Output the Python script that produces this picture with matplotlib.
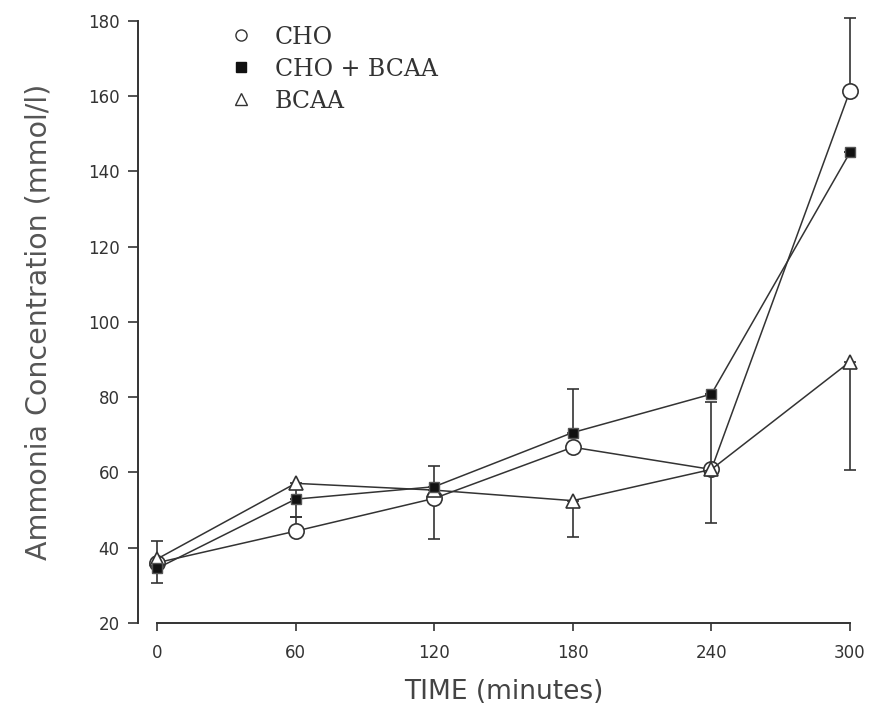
import numpy as np
import matplotlib.pyplot as plt
from matplotlib.lines import Line2D

# sampling times (minutes)
time = [0, 60, 120, 180, 240, 300]

# ammonia concentration (mmol/l) per treatment
cho = [36.0, 44.4, 53.1, 66.7, 60.8, 161.4]
cho_bcaa = [34.5, 52.9, 56.2, 70.6, 80.8, 145.0]
bcaa = [37.0, 57.1, 55.3, 52.5, 60.8, 89.4]

# one-sided error bars (upper for CHO and CHO+BCAA, lower for BCAA)
cho_up = [5.8, 3.7, 0.0, 0.0, 17.8, 19.2]
cho_bcaa_up = [0.0, 0.0, 5.6, 11.5, 0.0, 0.0]
bcaa_down = [6.5, 9.0, 13.0, 9.6, 14.2, 28.8]

xticks = [0, 60, 120, 180, 240, 300]
yticks = [20, 40, 60, 80, 100, 120, 140, 160, 180]

ink = '#333333'
zeros = np.zeros(len(time))

fig = plt.figure(figsize=(8.74, 7.17), dpi=100)
ax = fig.add_axes([0.1796, 0.1311, 0.7929, 0.840])

ekw = dict(ecolor=ink, elinewidth=1.2, capsize=4, capthick=1.2, zorder=2)

bars = []
bars.append(ax.errorbar(time, bcaa, yerr=[bcaa_down, zeros], fmt='none', **ekw))
bars.append(ax.errorbar(time, cho, yerr=[zeros, cho_up], fmt='none', **ekw))
bars.append(ax.errorbar(time, cho_bcaa, yerr=[zeros, cho_bcaa_up], fmt='none', **ekw))
for b in bars:
    for art in b.lines[1] + b.lines[2]:
        art.set_clip_on(False)

# circles underneath, then triangles, filled squares on top
ax.plot(time, cho, '-', color=ink, lw=1.1, marker='o', ms=11,
        mfc='white', mec=ink, mew=1.2, zorder=3, clip_on=False)
ax.plot(time, bcaa, '-', color=ink, lw=1.1, marker='^', ms=10,
        mfc='white', mec=ink, mew=1.2, zorder=4, clip_on=False)
ax.plot(time, cho_bcaa, '-', color=ink, lw=1.1, marker='s', ms=7,
        mfc='#111111', mec='#555555', mew=1.0, zorder=5, clip_on=False)

ax.set_xlim(0, 300)
ax.set_ylim(20, 180)
ax.set_xticks(xticks)
ax.set_yticks(yticks)

for s in ['top', 'right']:
    ax.spines[s].set_visible(False)
ax.spines['left'].set_position(('outward', 14))
for s in ['left', 'bottom']:
    ax.spines[s].set_color(ink)
    ax.spines[s].set_linewidth(1.4)

ax.tick_params(axis='x', direction='out', length=6, width=1.2, colors=ink,
               labelsize=12, pad=9)
ax.tick_params(axis='y', direction='out', length=7, width=1.2, colors=ink,
               labelsize=12, pad=6)

ax.set_ylabel('Ammonia Concentration (mmol/l)', fontsize=20.5, color='#555555',
              labelpad=25)
ax.set_xlabel('TIME (minutes)', fontsize=19, color='#444444', labelpad=12)

handles = [
    Line2D([], [], ls='none', marker='o', ms=8, mfc='white', mec=ink, mew=1.0),
    Line2D([], [], ls='none', marker='s', ms=6.5, mfc='#111111', mec='#111111'),
    Line2D([], [], ls='none', marker='^', ms=8, mfc='white', mec=ink, mew=1.0),
]
ax.legend(handles, ['CHO', 'CHO + BCAA', 'BCAA'], loc='upper left',
          bbox_to_anchor=(0.073, 1.027), frameon=False, handlelength=1.0,
          handletextpad=0.95, labelspacing=0.38,
          prop={'family': 'DejaVu Serif', 'size': 17})
for t in ax.get_legend().get_texts():
    t.set_color('#333333')

fig.savefig('out.png', dpi=100)
